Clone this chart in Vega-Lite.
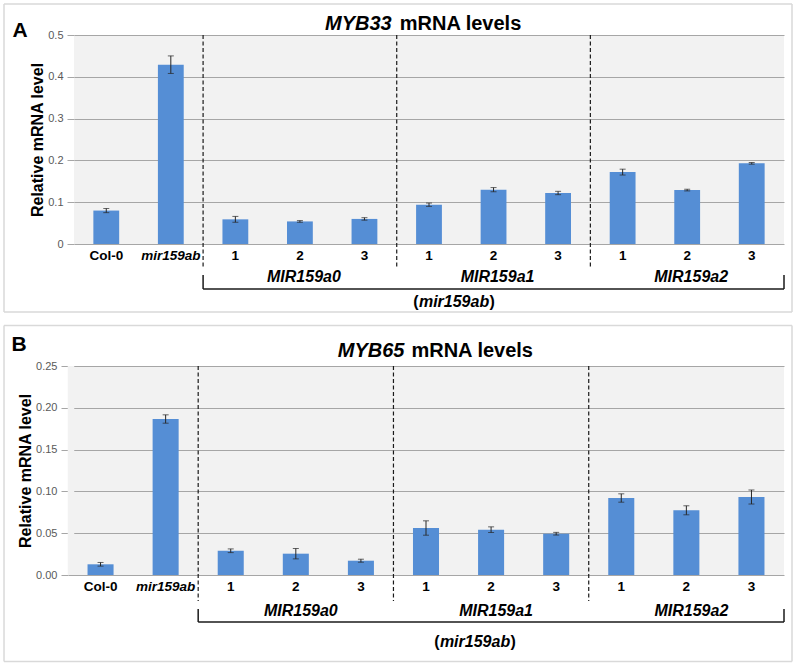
{
  "$schema": "https://vega.github.io/schema/vega-lite/v6.json",
  "padding": {"left": 3, "top": 3, "right": 3, "bottom": 3},
  "background": "white",
  "spacing": 11,
  "datasets": {
    "A": [
      {"cat": "Col-0", "group": "", "line": "", "value": 0.080, "err": 0.005},
      {"cat": "mir159ab", "group": "", "line": "", "value": 0.429, "err": 0.021},
      {"cat": "MIR159a0 1", "group": "MIR159a0", "line": "1", "value": 0.059, "err": 0.007},
      {"cat": "MIR159a0 2", "group": "MIR159a0", "line": "2", "value": 0.054, "err": 0.002},
      {"cat": "MIR159a0 3", "group": "MIR159a0", "line": "3", "value": 0.060, "err": 0.003},
      {"cat": "MIR159a1 1", "group": "MIR159a1", "line": "1", "value": 0.094, "err": 0.004},
      {"cat": "MIR159a1 2", "group": "MIR159a1", "line": "2", "value": 0.130, "err": 0.005},
      {"cat": "MIR159a1 3", "group": "MIR159a1", "line": "3", "value": 0.122, "err": 0.004},
      {"cat": "MIR159a2 1", "group": "MIR159a2", "line": "1", "value": 0.172, "err": 0.007},
      {"cat": "MIR159a2 2", "group": "MIR159a2", "line": "2", "value": 0.129, "err": 0.002},
      {"cat": "MIR159a2 3", "group": "MIR159a2", "line": "3", "value": 0.193, "err": 0.002}
    ],
    "B": [
      {"cat": "Col-0", "group": "", "line": "", "value": 0.0128, "err": 0.0022},
      {"cat": "mir159ab", "group": "", "line": "", "value": 0.1866, "err": 0.0050},
      {"cat": "MIR159a0 1", "group": "MIR159a0", "line": "1", "value": 0.0290, "err": 0.0022},
      {"cat": "MIR159a0 2", "group": "MIR159a0", "line": "2", "value": 0.0255, "err": 0.0062},
      {"cat": "MIR159a0 3", "group": "MIR159a0", "line": "3", "value": 0.0171, "err": 0.0018},
      {"cat": "MIR159a1 1", "group": "MIR159a1", "line": "1", "value": 0.0562, "err": 0.0086},
      {"cat": "MIR159a1 2", "group": "MIR159a1", "line": "2", "value": 0.0542, "err": 0.0034},
      {"cat": "MIR159a1 3", "group": "MIR159a1", "line": "3", "value": 0.0494, "err": 0.0016},
      {"cat": "MIR159a2 1", "group": "MIR159a2", "line": "1", "value": 0.0921, "err": 0.0050},
      {"cat": "MIR159a2 2", "group": "MIR159a2", "line": "2", "value": 0.0774, "err": 0.0054},
      {"cat": "MIR159a2 3", "group": "MIR159a2", "line": "3", "value": 0.0933, "err": 0.0084}
    ]
  },
  "config": {
    "font": "Liberation Sans",
    "view": {"fill": "#f2f2f2", "stroke": null},
    "text": {"font": "Liberation Sans", "color": "black"},
    "axis": {"labelFont": "Liberation Sans", "titleFont": "Liberation Sans"},
    "axisY": {
      "grid": true, "gridColor": "#a6a6a6", "gridWidth": 1,
      "domain": false, "ticks": true, "tickColor": "#a6a6a6", "tickSize": 7,
      "labelPadding": 4, "labelFontSize": 11, "labelColor": "#595959",
      "titleFontSize": 16, "titleFontWeight": "bold", "titleColor": "black", "titlePadding": 2
    },
    "axisX": {
      "domain": false, "ticks": false, "tickSize": 0, "grid": false,
      "labelAngle": 0, "labelFontSize": 13.5, "labelFontWeight": "bold",
      "labelColor": "black", "labelPadding": 4
    }
  },
  "vconcat": [
    {
      "width": 710,
      "height": 209,
      "layer": [
        {
          "data": {"name": "A"},
          "mark": {"type": "bar", "color": "#558ED5", "width": {"band": 0.4}},
          "encoding": {
            "x": {
              "field": "cat", "type": "nominal", "sort": null,
              "scale": {"domain": ["Col-0", "mir159ab", "MIR159a0 1", "MIR159a0 2", "MIR159a0 3", "MIR159a1 1", "MIR159a1 2", "MIR159a1 3", "MIR159a2 1", "MIR159a2 2", "MIR159a2 3"], "paddingInner": 0, "paddingOuter": 0},
              "axis": {
                "title": null,
                "labelExpr": "indexof(datum.value, ' ') > 0 ? split(datum.value, ' ')[1] : datum.value",
                "labelFontStyle": {"condition": {"test": "datum.value == 'mir159ab'", "value": "italic"}, "value": "normal"}
              }
            },
            "y": {
              "field": "value", "type": "quantitative",
              "scale": {"domain": [0, 0.5], "nice": false, "zero": true},
              "axis": {"title": "Relative mRNA level", "values": [0, 0.1, 0.2, 0.3, 0.4, 0.5], "format": "~f"}
            }
          }
        },
        {
          "data": {"name": "A"},
          "mark": {"type": "errorbar", "color": "#262626", "ticks": true, "size": 6, "thickness": 1},
          "encoding": {
            "x": {"field": "cat", "type": "nominal", "title": null},
            "y": {"field": "value", "type": "quantitative", "title": "Relative mRNA level"},
            "yError": {"field": "err"}
          }
        },
        {
          "data": {"name": "A"},
          "transform": [{"filter": "datum.line == '1'"}],
          "mark": {"type": "rule", "color": "#1a1a1a", "strokeWidth": 1.2, "strokeDash": [4, 2.5]},
          "encoding": {
            "x": {"field": "cat", "type": "nominal", "bandPosition": 0, "title": null},
            "y": {"datum": 0.5, "title": "Relative mRNA level"},
            "y2": {"datum": -0.055}
          }
        },
        {
          "data": {"name": "A"},
          "transform": [{"filter": "datum.line == '2'"}],
          "mark": {"type": "text", "fontSize": 16, "fontWeight": "bold", "fontStyle": "italic", "baseline": "middle", "align": "center", "dx": 4},
          "encoding": {
            "x": {"field": "cat", "type": "nominal", "title": null},
            "y": {"datum": -0.079, "title": "Relative mRNA level"},
            "text": {"field": "group"}
          }
        },
        {
          "data": {"values": [{}]},
          "layer": [
            {
              "mark": {"type": "rule", "color": "#1a1a1a", "strokeWidth": 1.5},
              "encoding": {
                "x": {"datum": "MIR159a0 1", "type": "nominal", "bandPosition": 0},
                "x2": {"datum": "MIR159a2 3", "bandPosition": 1},
                "y": {"datum": -0.1077}
              }
            },
            {
              "mark": {"type": "rule", "color": "#1a1a1a", "strokeWidth": 1.5},
              "encoding": {
                "x": {"datum": "MIR159a0 1", "type": "nominal", "bandPosition": 0},
                "y": {"datum": -0.0742},
                "y2": {"datum": -0.1077}
              }
            },
            {
              "mark": {"type": "rule", "color": "#1a1a1a", "strokeWidth": 1.5},
              "encoding": {
                "x": {"datum": "MIR159a2 3", "type": "nominal", "bandPosition": 1},
                "y": {"datum": -0.0742},
                "y2": {"datum": -0.1077}
              }
            },
            {
              "mark": {"type": "text", "text": "(", "fontSize": 16, "fontWeight": "bold", "align": "right", "baseline": "middle", "dx": -35.5},
              "encoding": {
                "x": {"datum": "MIR159a1 1", "type": "nominal", "bandPosition": 0.888},
                "y": {"datum": -0.1388}
              }
            },
            {
              "mark": {"type": "text", "text": "mir159ab", "fontSize": 16, "fontWeight": "bold", "fontStyle": "italic", "align": "center", "baseline": "middle"},
              "encoding": {
                "x": {"datum": "MIR159a1 1", "type": "nominal", "bandPosition": 0.888},
                "y": {"datum": -0.1388}
              }
            },
            {
              "mark": {"type": "text", "text": ")", "fontSize": 16, "fontWeight": "bold", "align": "left", "baseline": "middle", "dx": 35.5},
              "encoding": {
                "x": {"datum": "MIR159a1 1", "type": "nominal", "bandPosition": 0.888},
                "y": {"datum": -0.1388}
              }
            },
            {
              "mark": {"type": "text", "text": "MYB33", "fontSize": 20, "fontWeight": "bold", "fontStyle": "italic", "align": "right", "baseline": "middle", "dx": -5},
              "encoding": {
                "x": {"datum": "MIR159a1 1", "type": "nominal", "bandPosition": 0},
                "y": {"datum": 0.5275}
              }
            },
            {
              "mark": {"type": "text", "text": "mRNA levels", "fontSize": 20, "fontWeight": "bold", "align": "left", "baseline": "middle", "dx": 3},
              "encoding": {
                "x": {"datum": "MIR159a1 1", "type": "nominal", "bandPosition": 0},
                "y": {"datum": 0.5275}
              }
            },
            {
              "mark": {"type": "text", "text": "A", "fontSize": 21, "fontWeight": "bold", "align": "center", "baseline": "middle"},
              "encoding": {
                "x": {"datum": "Col-0", "type": "nominal", "bandPosition": -0.837},
                "y": {"datum": 0.5096}
              }
            },
            {
              "mark": {"type": "rule", "color": "#d9d9d9", "strokeWidth": 1.5},
              "encoding": {
                "x": {"datum": "Col-0", "type": "nominal", "bandPosition": -1.0845},
                "x2": {"datum": "MIR159a2 3", "bandPosition": 1.124},
                "y": {"datum": 0.5742}
              }
            },
            {
              "mark": {"type": "rule", "color": "#d9d9d9", "strokeWidth": 1.5},
              "encoding": {
                "x": {"datum": "Col-0", "type": "nominal", "bandPosition": -1.0845},
                "x2": {"datum": "MIR159a2 3", "bandPosition": 1.124},
                "y": {"datum": -0.1627}
              }
            },
            {
              "mark": {"type": "rule", "color": "#d9d9d9", "strokeWidth": 1.5},
              "encoding": {
                "x": {"datum": "Col-0", "type": "nominal", "bandPosition": -1.0845},
                "y": {"datum": 0.5742},
                "y2": {"datum": -0.1627}
              }
            },
            {
              "mark": {"type": "rule", "color": "#d9d9d9", "strokeWidth": 1.5},
              "encoding": {
                "x": {"datum": "MIR159a2 3", "type": "nominal", "bandPosition": 1.124},
                "y": {"datum": 0.5742},
                "y2": {"datum": -0.1627}
              }
            }
          ]
        }
      ]
    },
    {
      "width": 710,
      "height": 209,
      "layer": [
        {
          "data": {"values": [{}]},
          "mark": {"type": "rule", "color": "#f2f2f2", "strokeWidth": 6.5},
          "encoding": {
            "x": {"datum": "Col-0", "type": "nominal", "bandPosition": 0.046},
            "y": {"datum": 0},
            "y2": {"datum": 0.25}
          }
        },
        {
          "data": {"name": "B"},
          "mark": {"type": "bar", "color": "#558ED5", "width": {"band": 0.4}},
          "encoding": {
            "x": {
              "field": "cat", "type": "nominal", "sort": null,
              "scale": {"domain": ["Col-0", "mir159ab", "MIR159a0 1", "MIR159a0 2", "MIR159a0 3", "MIR159a1 1", "MIR159a1 2", "MIR159a1 3", "MIR159a2 1", "MIR159a2 2", "MIR159a2 3"], "range": [-6, 710], "paddingInner": 0, "paddingOuter": 0},
              "axis": {
                "title": null,
                "labelExpr": "indexof(datum.value, ' ') > 0 ? split(datum.value, ' ')[1] : datum.value",
                "labelFontStyle": {"condition": {"test": "datum.value == 'mir159ab'", "value": "italic"}, "value": "normal"}
              }
            },
            "y": {
              "field": "value", "type": "quantitative",
              "scale": {"domain": [0, 0.25], "nice": false, "zero": true},
              "axis": {"title": "Relative mRNA level", "values": [0, 0.05, 0.1, 0.15, 0.2, 0.25], "format": ".2f", "offset": 6}
            }
          }
        },
        {
          "data": {"name": "B"},
          "mark": {"type": "errorbar", "color": "#262626", "ticks": true, "size": 6, "thickness": 1},
          "encoding": {
            "x": {"field": "cat", "type": "nominal", "title": null},
            "y": {"field": "value", "type": "quantitative", "title": "Relative mRNA level"},
            "yError": {"field": "err"}
          }
        },
        {
          "data": {"name": "B"},
          "transform": [{"filter": "datum.line == '1'"}],
          "mark": {"type": "rule", "color": "#1a1a1a", "strokeWidth": 1.2, "strokeDash": [4, 2.5]},
          "encoding": {
            "x": {"field": "cat", "type": "nominal", "bandPosition": 0, "title": null},
            "y": {"datum": 0.25, "title": "Relative mRNA level"},
            "y2": {"datum": -0.0311}
          }
        },
        {
          "data": {"name": "B"},
          "transform": [{"filter": "datum.line == '2'"}],
          "mark": {"type": "text", "fontSize": 16, "fontWeight": "bold", "fontStyle": "italic", "baseline": "middle", "align": "center", "dx": 5},
          "encoding": {
            "x": {"field": "cat", "type": "nominal", "title": null},
            "y": {"datum": -0.0431, "title": "Relative mRNA level"},
            "text": {"field": "group"}
          }
        },
        {
          "data": {"values": [{}]},
          "layer": [
            {
              "mark": {"type": "rule", "color": "#1a1a1a", "strokeWidth": 1.5},
              "encoding": {
                "x": {"datum": "MIR159a0 1", "type": "nominal", "bandPosition": 0},
                "x2": {"datum": "MIR159a2 3", "bandPosition": 1},
                "y": {"datum": -0.0562}
              }
            },
            {
              "mark": {"type": "rule", "color": "#1a1a1a", "strokeWidth": 1.5},
              "encoding": {
                "x": {"datum": "MIR159a0 1", "type": "nominal", "bandPosition": 0},
                "y": {"datum": -0.0407},
                "y2": {"datum": -0.0562}
              }
            },
            {
              "mark": {"type": "rule", "color": "#1a1a1a", "strokeWidth": 1.5},
              "encoding": {
                "x": {"datum": "MIR159a2 3", "type": "nominal", "bandPosition": 1},
                "y": {"datum": -0.0407},
                "y2": {"datum": -0.0562}
              }
            },
            {
              "mark": {"type": "text", "text": "(", "fontSize": 16, "fontWeight": "bold", "align": "right", "baseline": "middle", "dx": -35.5},
              "encoding": {
                "x": {"datum": "MIR159a1 2", "type": "nominal", "bandPosition": 0.253},
                "y": {"datum": -0.0801}
              }
            },
            {
              "mark": {"type": "text", "text": "mir159ab", "fontSize": 16, "fontWeight": "bold", "fontStyle": "italic", "align": "center", "baseline": "middle"},
              "encoding": {
                "x": {"datum": "MIR159a1 2", "type": "nominal", "bandPosition": 0.253},
                "y": {"datum": -0.0801}
              }
            },
            {
              "mark": {"type": "text", "text": ")", "fontSize": 16, "fontWeight": "bold", "align": "left", "baseline": "middle", "dx": 35.5},
              "encoding": {
                "x": {"datum": "MIR159a1 2", "type": "nominal", "bandPosition": 0.253},
                "y": {"datum": -0.0801}
              }
            },
            {
              "mark": {"type": "text", "text": "MYB65", "fontSize": 20, "fontWeight": "bold", "fontStyle": "italic", "align": "right", "baseline": "middle", "dx": 11},
              "encoding": {
                "x": {"datum": "MIR159a1 1", "type": "nominal", "bandPosition": 0},
                "y": {"datum": 0.2679}
              }
            },
            {
              "mark": {"type": "text", "text": "mRNA levels", "fontSize": 20, "fontWeight": "bold", "align": "left", "baseline": "middle", "dx": 18},
              "encoding": {
                "x": {"datum": "MIR159a1 1", "type": "nominal", "bandPosition": 0},
                "y": {"datum": 0.2679}
              }
            },
            {
              "mark": {"type": "text", "text": "B", "fontSize": 21, "fontWeight": "bold", "align": "center", "baseline": "middle"},
              "encoding": {
                "x": {"datum": "Col-0", "type": "nominal", "bandPosition": -0.753},
                "y": {"datum": 0.2751}
              }
            },
            {
              "mark": {"type": "rule", "color": "#d9d9d9", "strokeWidth": 1.5},
              "encoding": {
                "x": {"datum": "Col-0", "type": "nominal", "bandPosition": -0.983},
                "x2": {"datum": "MIR159a2 3", "bandPosition": 1.123},
                "y": {"datum": 0.2984}
              }
            },
            {
              "mark": {"type": "rule", "color": "#d9d9d9", "strokeWidth": 1.5},
              "encoding": {
                "x": {"datum": "Col-0", "type": "nominal", "bandPosition": -0.983},
                "x2": {"datum": "MIR159a2 3", "bandPosition": 1.123},
                "y": {"datum": -0.1035}
              }
            },
            {
              "mark": {"type": "rule", "color": "#d9d9d9", "strokeWidth": 1.5},
              "encoding": {
                "x": {"datum": "Col-0", "type": "nominal", "bandPosition": -0.983},
                "y": {"datum": 0.2984},
                "y2": {"datum": -0.1035}
              }
            },
            {
              "mark": {"type": "rule", "color": "#d9d9d9", "strokeWidth": 1.5},
              "encoding": {
                "x": {"datum": "MIR159a2 3", "type": "nominal", "bandPosition": 1.123},
                "y": {"datum": 0.2984},
                "y2": {"datum": -0.1035}
              }
            }
          ]
        }
      ]
    }
  ]
}
